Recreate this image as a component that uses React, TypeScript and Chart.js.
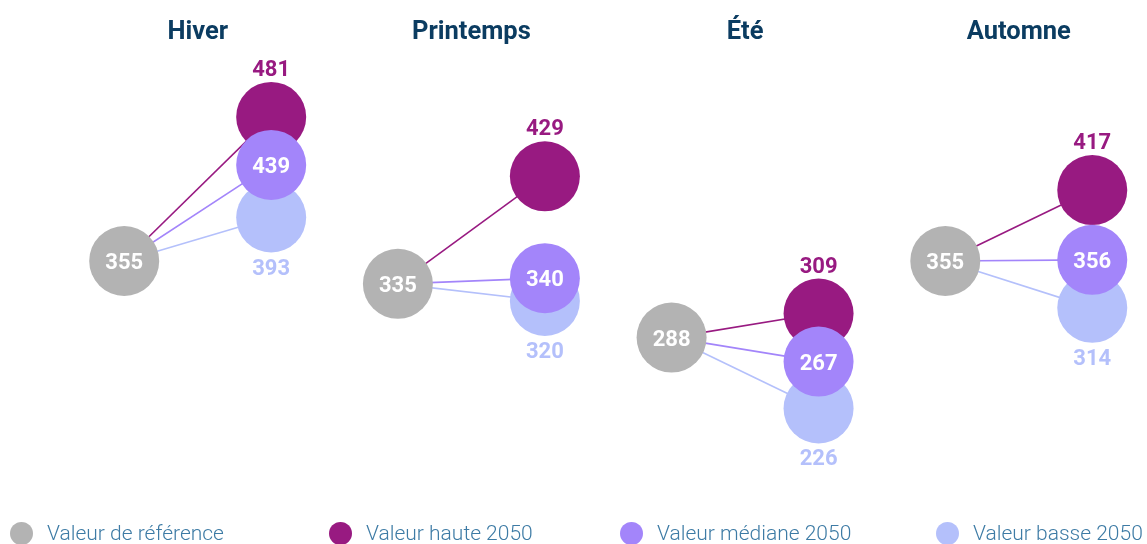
import React, { useEffect, useRef } from 'react';
import { Chart, registerables } from 'chart.js';

Chart.register(...registerables);

// ---- Data ----
const seasons = ['Hiver', 'Printemps', 'Été', 'Automne'];
const reference = [355, 335, 288, 355];
const haute2050 = [481, 429, 309, 417];
const mediane2050 = [439, 340, 267, 356];
const basse2050 = [393, 320, 226, 314];
const seriesLabels = ['Valeur de référence', 'Valeur haute 2050', 'Valeur médiane 2050', 'Valeur basse 2050'];

// ---- Styles ----
const COLOR_REF = '#b3b3b3';
const COLOR_HAUTE = '#981a81';
const COLOR_MEDIANE = '#a385fa';
const COLOR_BASSE = '#b4c0fb';
const TITLE_COLOR = '#0b3c61';
const LEGEND_TEXT = '#3d7ba5';
const FUT_OFFSET = 0.537;
const RADIUS = 35;

const legendColors = [COLOR_REF, COLOR_HAUTE, COLOR_MEDIANE, COLOR_BASSE];
const legendLeft = [10, 329, 620, 936];

const valueLabels = {
  id: 'valueLabels',
  afterDatasetsDraw(chart: any) {
    const { ctx } = chart;
    ctx.save();
    ctx.font = 'bold 22px Roboto';
    ctx.textAlign = 'center';
    ctx.textBaseline = 'alphabetic';
    chart.data.datasets.forEach((ds: any, di: number) => {
      const mode = ds.labelMode;
      if (!mode) return;
      const meta = chart.getDatasetMeta(di);
      meta.data.forEach((pt: any, i: number) => {
        const v = ds.data[i].y;
        let y = pt.y;
        let color = '#ffffff';
        if (mode === 'above') { y -= 49; color = ds.backgroundColor; }
        if (mode === 'below') { y += 49; color = ds.backgroundColor; }
        ctx.fillStyle = color;
        ctx.fillText(String(v), pt.x, y + 8);
      });
    });
    ctx.restore();
  },
};

function lineDataset(values: number[], color: string, order: number) {
  return {
    label: '',
    data: seasons.flatMap((_, i) => [
      { x: i, y: reference[i] },
      { x: i + FUT_OFFSET, y: values[i] },
    ]),
    showLine: true,
    borderColor: color,
    borderWidth: 1.6,
    pointRadius: 0,
    pointHoverRadius: 0,
    segment: {
      borderColor: (c: any) => (c.p0DataIndex % 2 === 1 ? 'rgba(0,0,0,0)' : color),
    },
    order,
  };
}

function pointDataset(label: string, values: number[], xOff: number, color: string, labelMode: string, order: number) {
  return {
    label,
    data: seasons.map((_, i) => ({ x: i + xOff, y: values[i] })),
    backgroundColor: color,
    borderWidth: 0,
    pointRadius: RADIUS,
    pointHoverRadius: RADIUS,
    labelMode,
    order,
    clip: false,
  };
}

export default function App() {
  const canvasRef = useRef<HTMLCanvasElement | null>(null);

  useEffect(() => {
    if (!canvasRef.current) return;
    const chart = new Chart(canvasRef.current, {
      type: 'scatter',
      data: {
        datasets: [
          lineDataset(haute2050, COLOR_HAUTE, 7),
          lineDataset(mediane2050, COLOR_MEDIANE, 6),
          lineDataset(basse2050, COLOR_BASSE, 5),
          pointDataset(seriesLabels[0], reference, 0, COLOR_REF, 'inside', 4),
          pointDataset(seriesLabels[1], haute2050, FUT_OFFSET, COLOR_HAUTE, 'above', 2),
          pointDataset(seriesLabels[3], basse2050, FUT_OFFSET, COLOR_BASSE, 'below', 3),
          pointDataset(seriesLabels[2], mediane2050, FUT_OFFSET, COLOR_MEDIANE, 'inside', 1),
        ] as any,
      },
      options: {
        responsive: false,
        animation: false,
        events: [],
        layout: { padding: 0, autoPadding: false },
        plugins: {
          legend: { display: false },
          tooltip: { enabled: false },
        },
        scales: {
          x: {
            type: 'linear',
            position: 'top',
            min: -0.4538,
            max: 3.737,
            grid: { display: false, drawTicks: false },
            border: { display: false },
            afterBuildTicks: (s: any) => {
              s.ticks = seasons.map((_, i) => ({ value: i + FUT_OFFSET / 2 }));
            },
            afterFit: (s: any) => {
              s.height = 50;
            },
            ticks: {
              autoSkip: false,
              maxRotation: 0,
              padding: 2,
              color: TITLE_COLOR,
              font: { family: 'Roboto', size: 25.5, weight: 'bold' },
              callback: (_v: any, idx: number) => seasons[idx],
            },
          },
          y: {
            display: false,
            min: 107.5,
            max: 539.5,
          },
        },
      } as any,
      plugins: [valueLabels],
    });
    return () => chart.destroy();
  }, []);

  return (
    <div style={{ position: 'absolute', left: 0, top: 0, width: 1147, height: 544, background: '#fff', overflow: 'hidden' }}>
      <canvas ref={canvasRef} width={1147} height={544} style={{ display: 'block' }} />
      {seriesLabels.map((lab, i) => (
        <div
          key={lab}
          style={{
            position: 'absolute',
            left: legendLeft[i],
            top: 521,
            height: 24,
            display: 'flex',
            alignItems: 'center',
            fontFamily: 'Roboto',
            fontWeight: 300,
            fontSize: 21,
            color: LEGEND_TEXT,
            whiteSpace: 'nowrap',
          }}
        >
          <span
            style={{
              display: 'inline-block',
              width: 23,
              height: 23,
              borderRadius: '50%',
              background: legendColors[i],
              marginRight: 14,
              flex: 'none',
            }}
          />
          <span>{lab}</span>
        </div>
      ))}
    </div>
  );
}
